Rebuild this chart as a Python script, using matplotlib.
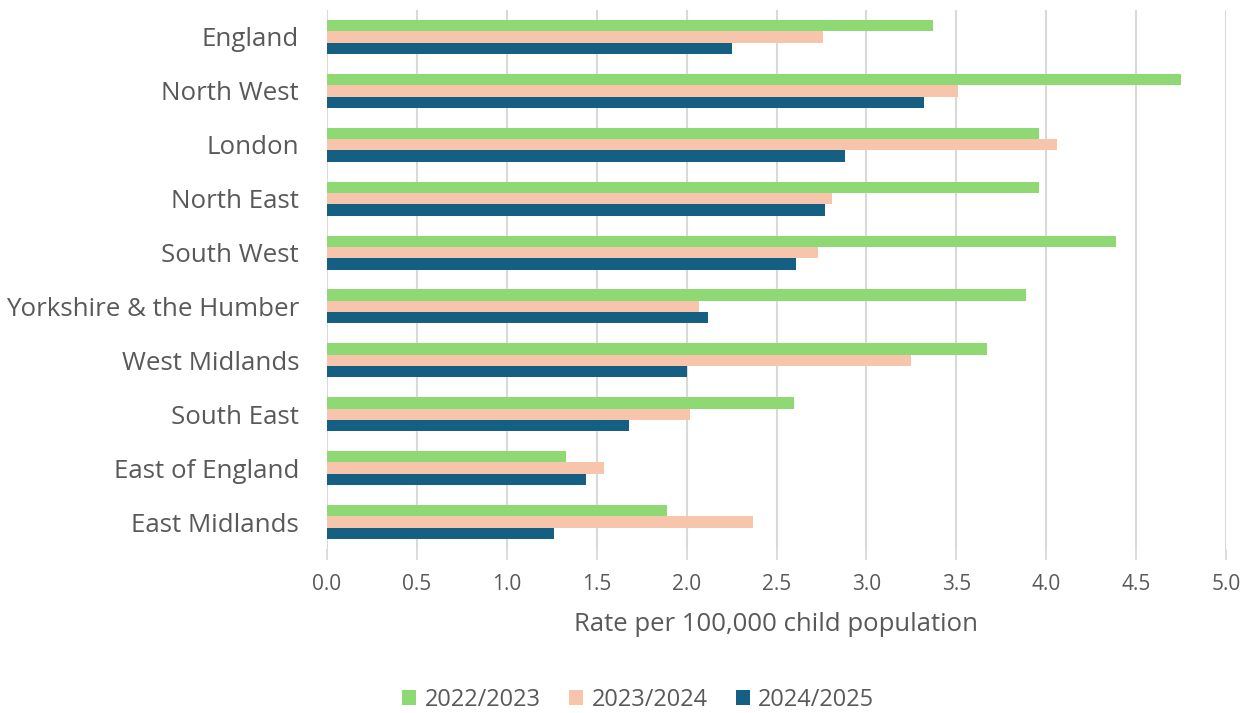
import numpy as np
import matplotlib
matplotlib.use("Agg")
import matplotlib.pyplot as plt
from matplotlib.patches import Patch

regions = ["England", "North West", "London", "North East", "South West",
           "Yorkshire & the Humber", "West Midlands", "South East",
           "East of England", "East Midlands"]
years = ["2022/2023", "2023/2024", "2024/2025"]
rate_2223 = [3.37, 4.75, 3.96, 3.96, 4.39, 3.89, 3.67, 2.60, 1.33, 1.89]
rate_2324 = [2.76, 3.51, 4.06, 2.81, 2.73, 2.07, 3.25, 2.02, 1.54, 2.37]
rate_2425 = [2.25, 3.32, 2.88, 2.77, 2.61, 2.12, 2.00, 1.68, 1.44, 1.26]
colors = ["#8ED973", "#F6C5AC", "#156082"]

text_col = "#595959"
plt.rcParams["font.family"] = ["Open Sans", "DejaVu Sans"]

fig = plt.figure(figsize=(12.54, 7.13), dpi=100)
ax = fig.add_axes([327 / 1254, 1 - 549 / 713, 899 / 1254, 539 / 713])

y = np.arange(len(regions))
h = 0.21
for i, (vals, c) in enumerate(zip([rate_2223, rate_2324, rate_2425], colors)):
    ax.barh(y + (i - 1) * h, vals, height=h, color=c, zorder=3)

ax.set_xlim(0, 5)
ax.set_ylim(len(regions) - 0.5, -0.5)
ticks = np.arange(0, 5.01, 0.5)
ax.set_xticks(ticks)
ax.set_xticklabels([f"{v:.1f}" for v in ticks], fontsize=15, color=text_col)
ax.set_yticks(y)
ax.set_yticklabels(regions, fontsize=18.6, color=text_col)
ax.tick_params(axis="y", length=0, pad=20)
ax.tick_params(axis="x", length=8, color="#D9D9D9", width=1.3, pad=10)
ax.xaxis.grid(True, color="#D9D9D9", linewidth=1.5, zorder=0)
for s in ax.spines.values():
    s.set_visible(False)

ax.set_xlabel("Rate per 100,000 child population", fontsize=18.5,
              color=text_col, labelpad=12)

handles = [Patch(facecolor=c, edgecolor="none") for c in colors]
fig.legend(handles, years, loc="center", bbox_to_anchor=(0.509, 1 - 700 / 713),
           ncol=3, frameon=False, fontsize=17, labelcolor=text_col,
           handlelength=0.6, handleheight=0.6, handletextpad=0.35,
           columnspacing=1.2)

fig.savefig("out.png", dpi=100)
